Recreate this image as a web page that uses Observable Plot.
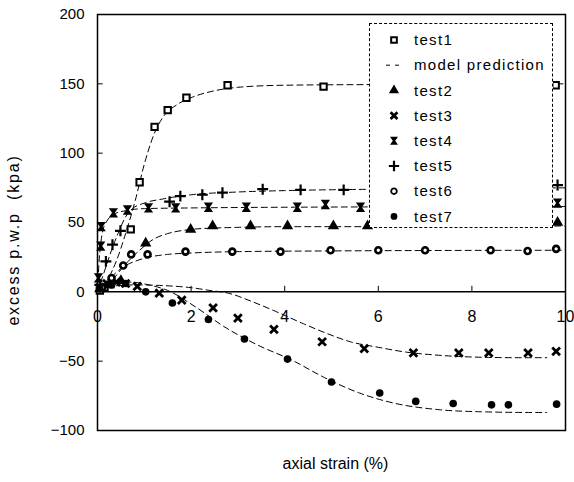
<!DOCTYPE html>
<html><head><meta charset="utf-8">
<script src="https://cdn.jsdelivr.net/npm/d3@7"></script>
<script src="https://cdn.jsdelivr.net/npm/@observablehq/plot@0.6"></script>
<style>
body{margin:0;background:#fff;}
#wrap{position:relative;width:574px;height:482px;font-family:"Liberation Sans",Arial,sans-serif;}
#legend{position:absolute;left:369px;top:23px;width:184px;height:205px;border:1px dashed #000;background:#fff;box-sizing:border-box;}
#ytitle{position:absolute;left:14px;top:240px;transform:translate(-50%,-50%) rotate(-90deg);white-space:nowrap;font-size:16px;letter-spacing:1.8px;color:#000;}
</style></head><body><div id="wrap"></div>
<script>
const xTicks = [0, 2, 4, 6, 8, 10];
const yTicks = [-100, -50, 0, 50, 100, 150, 200];
const legendLabels = ["test1", "model prediction", "test2", "test3", "test4", "test5", "test6", "test7"];

const test1 = [[0.05,1],[0.15,3],[0.71,45],[0.9,79],[1.22,119],[1.5,131],[1.9,140],[2.78,149],[4.83,148],[6.73,148],[9.79,149]];
const test2 = [[0.05,2],[0.25,5],[0.5,8],[1.03,35],[1.99,45],[2.46,47.5],[3.27,47.5],[4.06,47.5],[5.04,47.5],[5.77,47.5],[9.83,50]];
const test3 = [[0.05,3],[0.2,6],[0.4,7],[0.6,6],[0.85,4],[1.32,-1],[1.8,-6],[2.47,-11.5],[3.0,-19],[3.77,-27],[4.8,-36],[5.7,-41],[6.75,-44],[7.72,-44],[8.36,-44],[9.2,-44],[9.8,-43]];
const test4 = [[0.02,10],[0.07,33],[0.08,47],[0.34,57],[0.64,59],[1.09,60.5],[1.67,60.5],[2.37,61],[3.18,61],[4.27,61],[4.87,63],[5.62,61],[9.83,64]];
const test5 = [[0.05,5],[0.18,22],[0.32,34],[0.49,44],[1.54,65],[1.77,69],[2.24,70],[2.67,71.5],[3.53,74],[4.34,73.5],[5.26,73.5],[9.83,77]];
const test6 = [[0.1,3],[0.3,10],[0.55,19],[0.72,27],[1.07,27],[1.88,29],[2.88,29],[3.91,29],[4.98,30],[6.0,30],[7.0,30],[8.4,30],[9.19,29.5],[9.8,31]];
const test7 = [[0.05,2],[0.3,5],[0.6,6],[1.03,0],[1.6,-8],[2.37,-20],[3.14,-34],[4.06,-48.5],[5.0,-65],[6.03,-73],[6.8,-79],[7.6,-80.5],[8.42,-81.5],[8.78,-81.5],[9.81,-81]];

const model1 = [[0,0],[0.2,8],[0.4,22],[0.6,42],[0.8,65],[1.0,92],[1.2,113],[1.4,126],[1.7,135],[2,140],[2.5,145],[3,147.5],[4,149],[6,149.5],[10,150]];
const model2 = [[0,0],[0.3,8],[0.6,20],[0.9,30],[1.2,38],[1.5,42],[2,45],[2.5,46],[3,46.5],[4,47],[6,47],[10,47.5]];
const model3 = [[0,0],[0.3,4],[0.8,5],[1.4,4.5],[2,3],[2.4,1],[2.8,-1],[3.3,-7],[3.8,-14],[4.4,-23],[4.9,-30],[5.4,-36],[6,-40],[6.6,-43.5],[7.2,-45.5],[8,-47],[9,-47.5],[9.6,-47.5]];
const model4 = [[0,0],[0.03,20],[0.07,35],[0.12,45],[0.2,51],[0.35,56],[0.6,58.5],[1,60],[2,60.5],[4,61],[10,61.5]];
const model5 = [[0,0],[0.15,15],[0.3,30],[0.45,43],[0.6,54],[0.75,60],[1,64],[1.4,67],[2,70],[3,72],[4,73],[6,74],[8,74.5],[10,75]];
const model6 = [[0,0],[0.2,7],[0.4,14],[0.6,19],[0.8,22],[1.1,25],[1.5,27],[2,28],[3,29],[5,29.5],[10,30]];
const model7 = [[0,0],[0.3,6],[0.7,7],[1.1,5],[1.5,1],[2.1,-11],[2.7,-25],[3.4,-38],[4.2,-50],[4.8,-61],[5.6,-73],[6.3,-80],[7.3,-85],[8.2,-86.5],[9.3,-87],[9.6,-87]];

const hourglass = {
  draw(context, size) {
    const s = Math.sqrt(size) / 1.6;
    context.moveTo(-s, -s); context.lineTo(s, -s); context.lineTo(s * 0.3, 0);
    context.lineTo(s, s); context.lineTo(-s, s); context.lineTo(-s * 0.3, 0);
    context.closePath();
  }
};

const X = d => d[0], Y = d => d[1];
const font = "Liberation Sans, Arial, sans-serif";
const models = [model1, model2, model3, model4, model5, model6, model7];

const chart = Plot.plot({
  width: 574, height: 482,
  marginLeft: 97, marginRight: 9, marginTop: 14, marginBottom: 52,
  style: {fontFamily: font, background: "#fff", color: "#000"},
  x: {domain: [0, 10], axis: null},
  y: {domain: [-100, 200], axis: null},
  marks: [
    Plot.frame({stroke: "#000", strokeWidth: 1.5}),
    Plot.ruleY([0], {stroke: "#000", strokeWidth: 1.5}),
    Plot.ruleY(yTicks, {x1: 0, x2: 0.12, stroke: "#000"}),
    Plot.ruleX(xTicks.slice(1, 5), {y1: 0, y2: 4, stroke: "#000"}),
    Plot.text(yTicks, {x: 0, y: d => d, text: d => String(d).replace("-", "\u2212"), textAnchor: "end", dx: -13, fontSize: 15}),
    Plot.text(xTicks, {x: d => d, y: 0, text: d => String(d), dy: 25, fontSize: 16}),
    ...models.map(m => Plot.line(m, {x: X, y: Y, curve: "monotone-x", stroke: "#000", strokeWidth: 1, strokeDasharray: "6,4", clip: true})),
    Plot.dot(test1, {x: X, y: Y, symbol: "square", r: 3.6, fill: "#fff", stroke: "#000", strokeWidth: 2}),
    Plot.dot(test2, {x: X, y: Y, symbol: "triangle", r: 4.2, fill: "#000"}),
    Plot.dot(test3, {x: X, y: Y, symbol: "times", r: 3.6, stroke: "#000", strokeWidth: 2.8}),
    Plot.dot(test4, {x: X, y: Y, symbol: hourglass, r: 4.2, fill: "#000"}),
    Plot.dot(test5, {x: X, y: Y, symbol: "plus", r: 3.6, stroke: "#000", strokeWidth: 2.2}),
    Plot.dot(test6, {x: X, y: Y, symbol: "circle", r: 3, fill: "#fff", stroke: "#000", strokeWidth: 2.6}),
    Plot.dot(test7, {x: X, y: Y, symbol: "circle", r: 3.8, fill: "#000"}),
    Plot.text(["axial strain (%)"], {frameAnchor: "bottom", dy: 38, dx: 4, fontSize: 16, text: d => d, letterSpacing: "1.2px"})
  ]
});

const wrap = document.getElementById("wrap");
wrap.appendChild(chart);

const yt = document.createElement("div");
yt.id = "ytitle";
yt.textContent = "excess p.w.p\u00a0\u00a0(kpa)";
wrap.appendChild(yt);

// legend
const leg = document.createElement("div");
leg.id = "legend";
wrap.appendChild(leg);
const svg = d3.select(leg).append("svg").attr("width", 182).attr("height", 203).style("position", "absolute").style("left", "0px").style("top", "0px");
const rowY = i => 16 + i * 25.2;
const mx = 24;
const syms = [
  {t: "square", r: 3.2, fill: "#fff", stroke: "#000", sw: 2},
  {t: "model"},
  {t: "triangle", r: 3.8, fill: "#000"},
  {t: "times", r: 3.2, stroke: "#000", sw: 2.8},
  {t: hourglass, r: 3.6, fill: "#000"},
  {t: "plus", r: 3.4, stroke: "#000", sw: 2.2},
  {t: "circle", r: 2.8, fill: "#fff", stroke: "#000", sw: 1.8},
  {t: "circle", r: 3.4, fill: "#000"}
];
const d3sym = {square: d3.symbolSquare, triangle: d3.symbolTriangle, times: d3.symbolTimes, plus: d3.symbolPlus, circle: d3.symbolCircle};
legendLabels.forEach((lab, i) => {
  const y = rowY(i);
  const s = syms[i];
  if (s.t === "model") {
    svg.append("line").attr("x1", 16).attr("x2", 32).attr("y1", y).attr("y2", y)
      .attr("stroke", "#000").attr("stroke-dasharray", "4,5");
  } else {
    const type = typeof s.t === "string" ? d3sym[s.t] : s.t;
    svg.append("path").attr("transform", `translate(${mx},${y})`)
      .attr("d", d3.symbol(type, Math.PI * s.r * s.r)())
      .attr("fill", s.fill || "none").attr("stroke", s.stroke || "none").attr("stroke-width", s.sw || 0);
  }
  svg.append("text").attr("x", 44).attr("y", y).attr("dy", "0.35em")
    .attr("font-family", font).attr("font-size", 15).attr("letter-spacing", "1.3px").text(lab);
});
</script>
</body></html>
